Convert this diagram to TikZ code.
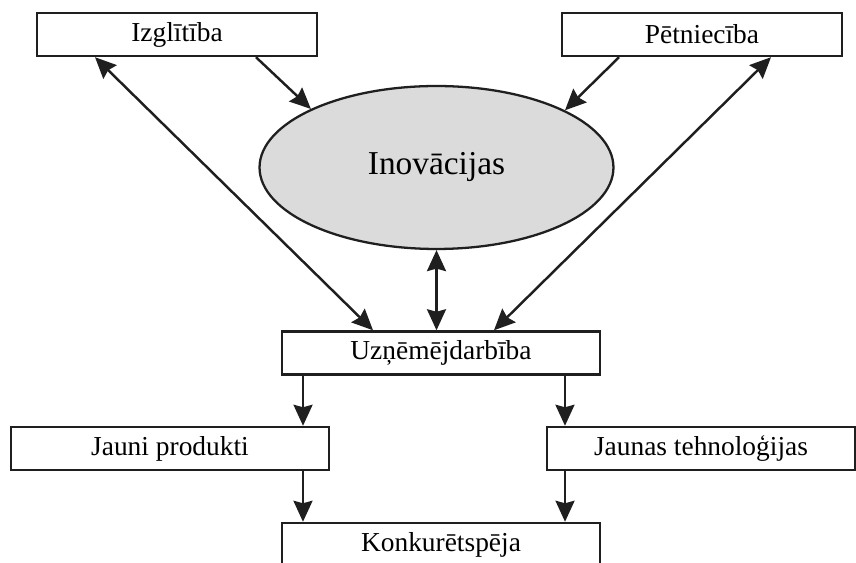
\documentclass[tikz,border=0pt]{standalone}
\usepackage{fontspec}
\setmainfont{Liberation Serif}
\usetikzlibrary{shapes,arrows.meta}

\begin{document}
\begin{tikzpicture}[x=0.02cm,y=-0.02cm]
		\clip (0,0) rectangle (856,563);
		\begin{scope}
            [
                styleBox/.style={
					draw=black!88, line width=1.4pt, minimum height=0.86cm, inner sep=0pt,
					font=\fontsize{15.6}{18}\selectfont
					},
				styleCore/.style={ellipse, draw=black!88, line width=1.3pt, fill=black!14,
					minimum width=7.08cm, minimum height=3.26cm, inner sep=0pt,
					font=\fontsize{19}{22}\selectfont},
            ]
			\node(izgl)[styleBox, minimum width=5.6cm] at (177,34.5) {Izglītība};
			\node(petn)[styleBox, minimum width=5.6cm] at (702,34.5) {Pētniecība};

			\node(inov)[styleCore] at (436.5,167.5) {Inovācijas};

			\node(uzn)[styleBox, minimum width=6.36cm] at (441,353) {Uzņēmējdarbība};
			\node(jp)[styleBox, minimum width=6.36cm] at (170,448.5) {Jauni produkti};
			\node(jt)[styleBox, minimum width=6.16cm] at (701,448.5) {Jaunas tehnoloģijas};

			\node(konk)[styleBox, minimum width=6.36cm] at (441,544.5) {Konkurētspēja};
		\end{scope}
		\begin{scope}
            [
				every edge/.style={draw=black!88, line width=1.4pt},
				oneArr/.style={-{Stealth[length=0.42cm,width=0.38cm,inset=0.05cm]}},
				biArr/.style={{Stealth[length=0.42cm,width=0.38cm,inset=0.05cm]}-{Stealth[length=0.42cm,width=0.38cm,inset=0.05cm]}},
			]
            \path 
			([xshift=1.58cm]izgl.south) edge[oneArr]       (inov.155.3)
			([xshift=-1.66cm]petn.south) edge[oneArr]      (inov.24.9)
			([xshift=-1.64cm]izgl.south) edge[biArr]       ([xshift=-1.36cm]uzn.north)
			([xshift=1.38cm]petn.south) edge[biArr]        ([xshift=1.06cm]uzn.north)
			(inov.south) edge[biArr]                       (inov.south |- uzn.north)

			([xshift=-2.76cm]uzn.south) edge[oneArr]       ([xshift=-2.76cm]uzn.south |- jp.north)
			([xshift=2.48cm]uzn.south) edge[oneArr]        ([xshift=2.48cm]uzn.south |- jt.north)
			([xshift=2.66cm]jp.south) edge[oneArr]         ([xshift=2.66cm]jp.south |- konk.north)
			([xshift=-2.72cm]jt.south) edge[oneArr]        ([xshift=-2.72cm]jt.south |- konk.north);
		\end{scope}
    \end{tikzpicture}
\end{document}
